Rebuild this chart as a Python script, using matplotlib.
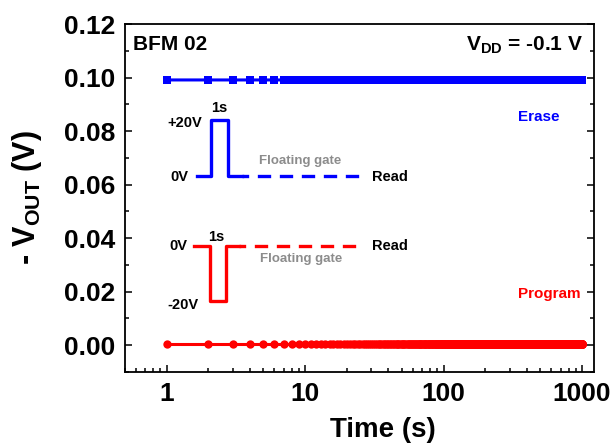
import numpy as np
import matplotlib
matplotlib.use("Agg")
import matplotlib.pyplot as plt
from matplotlib.ticker import MultipleLocator, LogLocator, NullFormatter, FixedFormatter, FixedLocator

plt.rcParams["font.family"] = ["Liberation Sans", "DejaVu Sans"]
plt.rcParams["font.weight"] = "bold"
plt.rcParams["axes.labelweight"] = "bold"
plt.rcParams["mathtext.fontset"] = "custom"
plt.rcParams["mathtext.rm"] = "Liberation Sans:bold"
plt.rcParams["mathtext.bf"] = "Liberation Sans:bold"

# measurement every second, 1 s .. 1000 s
time_s = np.arange(1, 1001)

# read levels of -V_OUT (V) over time segments [start, end)
erase_edges = [1, 20, 60, 150, 400, 1001]
erase_levels = [0.0991, 0.0990, 0.0990, 0.0991, 0.0991]
program_edges = [1, 1001]
program_levels = [0.0004]

# pulse sketches (time in s, level on the V axis)
erase_pulse_t = [1.65, 2.10, 2.10, 2.75, 2.75, 3.49]
erase_pulse_v = [0.0633, 0.0633, 0.0842, 0.0842, 0.0633, 0.0633]
erase_read_t = [3.49, 25.3]
erase_read_v = [0.0633, 0.0633]
program_pulse_t = [1.57, 2.04, 2.04, 2.66, 2.66, 3.32]
program_pulse_v = [0.0369, 0.0369, 0.0167, 0.0167, 0.0369, 0.0369]
program_read_t = [3.32, 25.7]
program_read_v = [0.0369, 0.0369]


def levels_to_series(edges, levels):
    out = np.empty(len(time_s))
    for a, b, v in zip(edges[:-1], edges[1:], levels):
        out[(time_s >= a) & (time_s < b)] = v
    return out


erase = levels_to_series(erase_edges, erase_levels)
program = levels_to_series(program_edges, program_levels)

fig = plt.figure(figsize=(6.15, 4.47), dpi=100)
ax = fig.add_axes([125 / 615, 1 - 372 / 447, 469 / 615, 348 / 447])

blue = "#0000ff"
red = "#ff0000"

ax.plot(time_s, erase, color=blue, lw=2.2, marker="s", ms=5.5, mew=0)
ax.plot(time_s, program, color=red, lw=2.2, marker="o", ms=6, mew=0)

# pulse schematics
ax.plot(erase_pulse_t, erase_pulse_v, color=blue, lw=2.4)
ax.plot(erase_read_t, erase_read_v, color=blue, lw=2.4, linestyle=(2, (4, 2.6)))
ax.plot(program_pulse_t, program_pulse_v, color=red, lw=2.4)
ax.plot(program_read_t, program_read_v, color=red, lw=2.4, linestyle=(2, (4, 2.6)))

fs = 10.5
ax.text(1.79, 0.0831, "+20V", ha="right", va="center", fontsize=fs)
ax.text(2.40, 0.0887, "1s", ha="center", va="center", fontsize=fs)
ax.text(1.44, 0.0629, "0V", ha="right", va="center", fontsize=fs)
ax.text(9.2, 0.0689, "Floating gate", ha="center", va="center", fontsize=9.5, color="#8c8c8c")
ax.text(30.4, 0.0629, "Read", ha="left", va="center", fontsize=fs)

ax.text(1.40, 0.0372, "0V", ha="right", va="center", fontsize=fs)
ax.text(2.27, 0.0405, "1s", ha="center", va="center", fontsize=fs)
ax.text(1.70, 0.0152, "-20V", ha="right", va="center", fontsize=fs)
ax.text(9.3, 0.0323, "Floating gate", ha="center", va="center", fontsize=9.5, color="#8c8c8c")
ax.text(30.4, 0.0372, "Read", ha="left", va="center", fontsize=fs)

ax.text(0.017, 0.94, "BFM 02", transform=ax.transAxes, ha="left", va="center", fontsize=15)
ax.text(0.977, 0.94, r"V$_{\mathrm{DD}}$ = -0.1 V", transform=ax.transAxes,
        ha="right", va="center", fontsize=15)
ax.text(0.838, 0.733, "Erase", transform=ax.transAxes, ha="left", va="center",
        fontsize=11, color=blue)
ax.text(0.838, 0.224, "Program", transform=ax.transAxes, ha="left", va="center",
        fontsize=11, color=red)

ax.set_xscale("log")
ax.set_xlim(0.5, 1220)
ax.set_ylim(-0.01, 0.12)

ax.xaxis.set_major_locator(FixedLocator([1, 10, 100, 1000]))
ax.xaxis.set_major_formatter(FixedFormatter(["1", "10", "100", "1000"]))
ax.xaxis.set_minor_locator(LogLocator(base=10, subs=np.arange(2, 10)))
ax.xaxis.set_minor_formatter(NullFormatter())
ax.yaxis.set_major_locator(MultipleLocator(0.02))
ax.yaxis.set_minor_locator(MultipleLocator(0.01))
ax.yaxis.set_major_formatter(plt.FormatStrFormatter("%.2f"))

ax.tick_params(axis="both", which="both", direction="in", top=False, right=True,
               labelsize=19, width=1.1)
ax.tick_params(axis="both", which="major", length=5, pad=7)
ax.tick_params(axis="both", which="minor", length=3)
for s in ax.spines.values():
    s.set_linewidth(1.3)

ax.set_xlabel("Time (s)", fontsize=20, fontweight="bold")
ax.xaxis.set_label_coords(0.55, -0.13)
ax.set_ylabel(r"- V$_{\mathrm{OUT}}$ (V)", fontsize=22, fontweight="bold")
ax.yaxis.set_label_coords(-0.172, 0.5)

fig.savefig("out.png", dpi=100)
